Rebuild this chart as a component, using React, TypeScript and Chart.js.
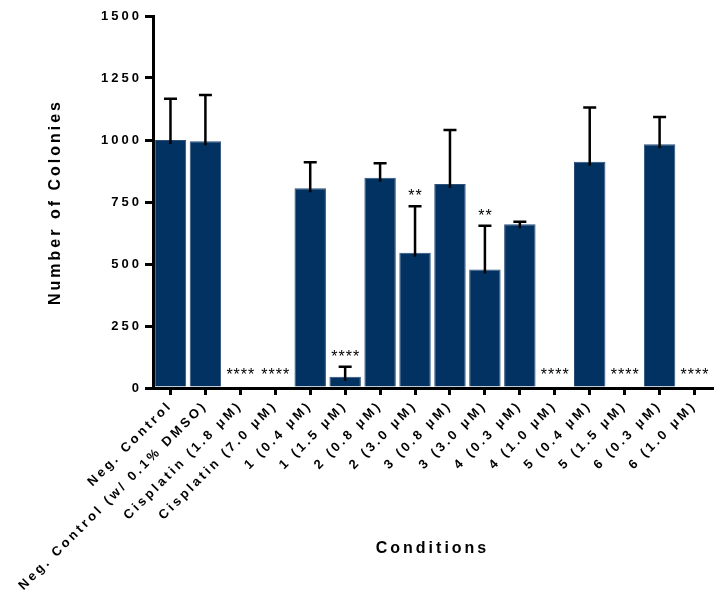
import { useEffect, useRef } from 'react';
import { Chart, registerables } from 'chart.js';

Chart.register(...registerables);

const categories = [
  'Neg. Control',
  'Neg. Control (w/ 0.1% DMSO)',
  'Cisplatin (1.8 μM)',
  'Cisplatin (7.0 μM)',
  '1 (0.4 μM)',
  '1 (1.5 μM)',
  '2 (0.8 μM)',
  '2 (3.0 μM)',
  '3 (0.8 μM)',
  '3 (3.0 μM)',
  '4 (0.3 μM)',
  '4 (1.0 μM)',
  '5 (0.4 μM)',
  '5 (1.5 μM)',
  '6 (0.3 μM)',
  '6 (1.0 μM)',
];
const colonies = [1000, 995, 0, 0, 805, 45, 848, 545, 823, 478, 660, 0, 912, 0, 983, 0];
const sdErrors = [166, 186, 0, 0, 105, 41, 58, 188, 217, 176, 10, 0, 219, 0, 110, 0];
const significance = ['', '', '****', '****', '', '****', '', '**', '', '**', '', '****', '', '****', '', '****'];
const yTickValues = [0, 250, 500, 750, 1000, 1250, 1500];

const FONT = '"Liberation Sans", Arial, sans-serif';
const SPACING = '3px';

const spacingPlugin = {
  id: 'spacing',
  beforeUpdate(chart: any) {
    chart.ctx.letterSpacing = SPACING;
  },
  beforeLayout(chart: any) {
    chart.ctx.letterSpacing = SPACING;
  },
  beforeDraw(chart: any) {
    chart.ctx.letterSpacing = SPACING;
  },
};

const errorBarPlugin = {
  id: 'errorBars',
  afterDatasetsDraw(chart: any) {
    const ctx = chart.ctx;
    const yScale = chart.scales.y;
    const meta = chart.getDatasetMeta(0);
    ctx.save();
    ctx.strokeStyle = '#000';
    ctx.lineWidth = 2.5;
    meta.data.forEach((bar: any, i: number) => {
      const err = sdErrors[i];
      if (!err) return;
      const yTop = yScale.getPixelForValue(colonies[i] + err);
      const yBase = yScale.getPixelForValue(colonies[i]) + 4;
      ctx.beginPath();
      ctx.moveTo(bar.x, yBase);
      ctx.lineTo(bar.x, yTop);
      ctx.moveTo(bar.x - 6.5, yTop);
      ctx.lineTo(bar.x + 6.5, yTop);
      ctx.stroke();
    });
    ctx.fillStyle = '#000';
    ctx.font = `16px ${FONT}`;
    ctx.letterSpacing = '1px';
    ctx.textAlign = 'center';
    ctx.textBaseline = 'alphabetic';
    meta.data.forEach((bar: any, i: number) => {
      const label = significance[i];
      if (!label) return;
      const top = colonies[i] + sdErrors[i];
      const gap = top === 0 ? 8 : 5;
      const y = yScale.getPixelForValue(top) - gap;
      ctx.fillText(label, bar.x + 0.5, y);
    });
    ctx.restore();
  },
};

export default function App() {
  const ref = useRef<HTMLCanvasElement | null>(null);
  useEffect(() => {
    document.body.style.margin = '0';
    const canvas = ref.current;
    if (!canvas) return;
    const chart = new Chart(canvas, {
      type: 'bar',
      data: {
        labels: categories,
        datasets: [
          {
            data: colonies,
            backgroundColor: '#023262',
            borderColor: '#2c4f78',
            borderWidth: 1,
            barPercentage: 0.9,
            categoryPercentage: 1,
          },
        ],
      },
      options: {
        animation: false,
        responsive: false,
        devicePixelRatio: 1,
        layout: { padding: { left: 42, top: 16, right: 10, bottom: 0 } },
        plugins: {
          legend: { display: false },
          tooltip: { enabled: false },
        },
        scales: {
          x: {
            z: 1,
            grid: {
              offset: false,
              drawOnChartArea: false,
              drawTicks: true,
              tickLength: 7,
              lineWidth: 3,
              color: '#000',
            },
            border: { display: true, width: 3, color: '#000' },
            ticks: {
              autoSkip: false,
              maxRotation: 45,
              minRotation: 45,
              padding: 3,
              color: '#000',
              font: { family: FONT, size: 13, weight: 'bold' },
            },
            title: {
              display: true,
              text: 'Conditions',
              color: '#000',
              font: { family: FONT, size: 16, weight: 'bold' },
              padding: { top: 0, bottom: 52 },
            },
            afterFit(scale: any) {
              scale.height = 222;
              scale.paddingLeft = 0;
              scale.paddingRight = 0;
            },
          },
          y: {
            min: 0,
            max: 1500,
            afterBuildTicks(scale: any) {
              scale.ticks = yTickValues.map((v) => ({ value: v }));
            },
            grid: {
              drawOnChartArea: false,
              drawTicks: true,
              tickLength: 8,
              lineWidth: 3,
              color: '#000',
            },
            border: { display: true, width: 3, color: '#000' },
            ticks: {
              padding: 3,
              color: '#000',
              font: { family: FONT, size: 13, weight: 'bold' },
              callback: (v: any) => String(v),
            },
            title: {
              display: true,
              text: 'Number of Colonies',
              color: '#000',
              font: { family: FONT, size: 16, weight: 'bold' },
              padding: { top: 4, bottom: 0 },
            },
            afterFit(scale: any) {
              scale.width = 111;
            },
          },
        },
      },
      plugins: [spacingPlugin, errorBarPlugin],
    } as any);
    return () => chart.destroy();
  }, []);
  return (
    <div style={{ width: 722, height: 610 }}>
      <canvas ref={ref} width={722} height={610} />
    </div>
  );
}
